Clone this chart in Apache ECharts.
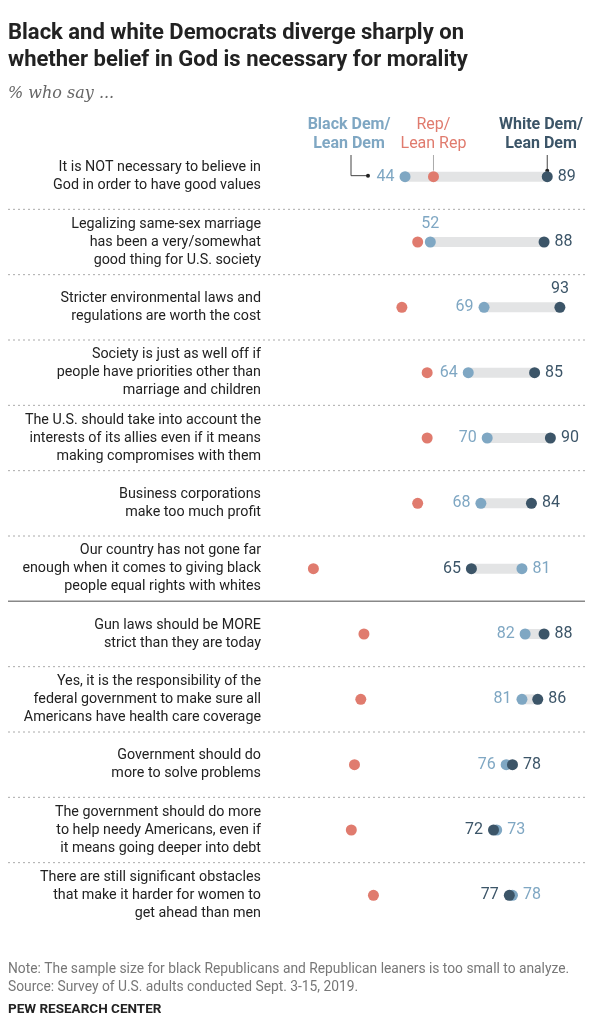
<!DOCTYPE html>
<html>
<head>
<meta charset="utf-8">
<script src="https://cdn.jsdelivr.net/npm/echarts@6/dist/echarts.min.js"></script>
<style>html,body{margin:0;padding:0;background:#fff}#main{width:592px;height:1023px}</style>
</head>
<body>
<div id="main"></div>
<script>
var statements = [
  'It is NOT necessary to believe in\nGod in order to have good values',
  'Legalizing same-sex marriage\nhas been a very/somewhat\ngood thing for U.S. society',
  'Stricter environmental laws and\nregulations are worth the cost',
  'Society is just as well off if\npeople have priorities other than\nmarriage and children',
  'The U.S. should take into account the\ninterests of its allies even if it means\nmaking compromises with them',
  'Business corporations\nmake too much profit',
  'Our country has not gone far\nenough when it comes to giving black\npeople equal rights with whites',
  'Gun laws should be MORE\nstrict than they are today',
  'Yes, it is the responsibility of the\nfederal government to make sure all\nAmericans have health care coverage',
  'Government should do\nmore to solve problems',
  'The government should do more\nto help needy Americans, even if\nit means going deeper into debt',
  'There are still significant obstacles\nthat make it harder for women to\nget ahead than men'
];
var blackDem = [44, 52, 69, 64, 70, 68, 81, 82, 81, 76, 73, 78];
var whiteDem = [89, 88, 93, 85, 90, 84, 65, 88, 86, 78, 72, 77];
var rep      = [53, 48, 43, 51, 51, 48, 15, 31, 30, 28, 27, 34];

var BLUE = '#7fa7c3', DARK = '#3c5568', RED = '#e07b6e';
var chart = echarts.init(document.getElementById('main'));

function pos(i, isBlack) {
  var me = isBlack ? blackDem[i] : whiteDem[i];
  var other = isBlack ? whiteDem[i] : blackDem[i];
  if (i === 1 && isBlack) return 'top';
  if (i === 2 && !isBlack) return 'top';
  return me < other ? 'left' : 'right';
}
function dotData(arr, isBlack) {
  return arr.map(function (v, i) {
    return { value: [v, i], label: { position: pos(i, isBlack) } };
  });
}

chart.setOption({
  animation: false,
  grid: { left: 266, right: 10, top: 144, height: 784 },
  xAxis: { type: 'value', min: 0, max: 100, show: false },
  yAxis: {
    type: 'category', inverse: true, data: statements,
    axisLine: { show: false }, axisTick: { show: false },
    axisLabel: { margin: 5, fontSize: 14.3, lineHeight: 18, color: '#222', fontFamily: 'Roboto', align: 'right' }
  },
  series: [
    { type: 'bar', stack: 'r', barWidth: 10, silent: true, itemStyle: { color: 'transparent' },
      data: blackDem.map(function (v, i) { return Math.min(v, whiteDem[i]); }) },
    { type: 'bar', stack: 'r', barWidth: 10, silent: true, itemStyle: { color: '#e3e4e5' },
      data: blackDem.map(function (v, i) { return Math.abs(v - whiteDem[i]); }) },
    { type: 'scatter', symbolSize: 11, itemStyle: { color: RED, opacity: 1 }, data: rep.map(function (v, i) { return [v, i]; }) },
    { type: 'scatter', symbolSize: 11, itemStyle: { color: BLUE, opacity: 1 }, data: dotData(blackDem, true),
      label: { show: true, distance: 5, color: BLUE, fontSize: 16, fontFamily: 'Roboto',
        formatter: function (p) { return p.value[0]; } } },
    { type: 'scatter', symbolSize: 11, itemStyle: { color: DARK, opacity: 1 }, data: dotData(whiteDem, false),
      label: { show: true, distance: 5, color: DARK, fontSize: 16, fontFamily: 'Roboto',
        formatter: function (p) { return p.value[0]; } } }
  ]
});

// separators and header annotations computed from the chart's own scales
var g = [];
for (var i = 0; i < statements.length - 1; i++) {
  var y = (chart.convertToPixel({ yAxisIndex: 0 }, i) + chart.convertToPixel({ yAxisIndex: 0 }, i + 1)) / 2;
  g.push({ type: 'line', shape: { x1: 8, y1: y, x2: 585, y2: y },
    style: { stroke: i === 6 ? '#888' : '#aaa', lineWidth: i === 6 ? 1.5 : 1, lineDash: i === 6 ? null : [2, 3] } });
}
var y0 = chart.convertToPixel({ yAxisIndex: 0 }, 0);
var xr = chart.convertToPixel({ xAxisIndex: 0 }, rep[0]);
var xw = chart.convertToPixel({ xAxisIndex: 0 }, whiteDem[0]);
g.push(
  { type: 'text', left: 8, top: 20, style: { text: 'Black and white Democrats diverge sharply on\nwhether belief in God is necessary for morality',
    font: 'bold 22px Roboto', fill: '#222', lineHeight: 27 } },
  { type: 'text', left: 8, top: 86, style: { text: '% who say ...', font: 'italic 16px "DejaVu Serif"', fill: '#666' } },
  { type: 'text', x: 349, y: 115, style: { text: 'Black Dem/\nLean Dem', font: 'bold 16px Roboto', fill: BLUE, align: 'center', lineHeight: 19 } },
  { type: 'text', x: xr, y: 115, style: { text: 'Rep/\nLean Rep', font: '16px Roboto', fill: RED, align: 'center', lineHeight: 19 } },
  { type: 'text', x: 541, y: 115, style: { text: 'White Dem/\nLean Dem', font: 'bold 16px Roboto', fill: DARK, align: 'center', lineHeight: 19 } },
  { type: 'polyline', shape: { points: [[351, 155], [351, y0 - 1], [368, y0 - 1]] }, style: { stroke: '#444', lineWidth: 1, fill: null } },
  { type: 'circle', shape: { cx: 368, cy: y0 - 1, r: 2 }, style: { fill: '#222' } },
  { type: 'line', shape: { x1: xr, y1: 155, x2: xr, y2: y0 - 6 }, style: { stroke: '#aaa', lineWidth: 1 } },
  { type: 'line', shape: { x1: xw, y1: 155, x2: xw, y2: y0 - 6 }, style: { stroke: '#444', lineWidth: 1 } },
  { type: 'circle', shape: { cx: xw, cy: y0 - 6, r: 2 }, style: { fill: '#222' } },
  { type: 'text', left: 8, top: 961, style: { text: 'Note: The sample size for black Republicans and Republican leaners is too small to analyze.\nSource: Survey of U.S. adults conducted Sept. 3-15, 2019.',
    font: '13.8px Roboto', fill: '#777', lineHeight: 18 } },
  { type: 'text', left: 8, top: 1003, style: { text: 'PEW RESEARCH CENTER', font: 'bold 13.5px Roboto', fill: '#222' } }
);
chart.setOption({ graphic: g });
</script>
</body>
</html>
